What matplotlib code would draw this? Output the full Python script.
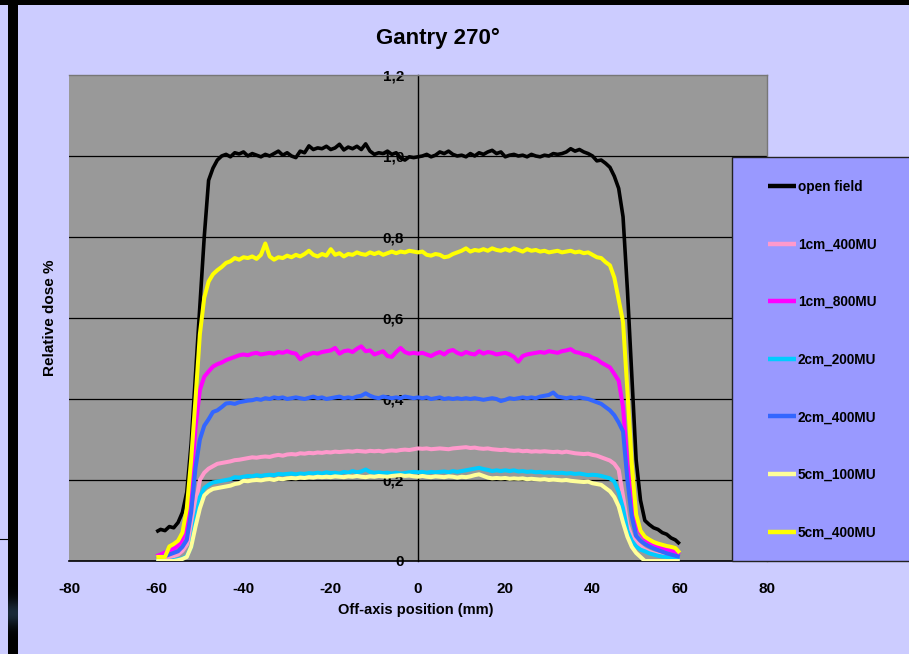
import numpy as np
import matplotlib
matplotlib.use("Agg")
import matplotlib.pyplot as plt
from matplotlib.patches import Rectangle
from matplotlib.ticker import FixedLocator, FuncFormatter

plt.rcParams['font.family'] = ['Liberation Sans', 'DejaVu Sans']
plt.rcParams['font.weight'] = 'bold'
plt.rcParams['axes.unicode_minus'] = False

# Off-axis position (mm)
position = list(range(-60, 61))

open_field = [
    0.072, 0.078, 0.075, 0.085, 0.082, 0.095, 0.12, 0.17, 0.29, 0.46,
    0.63, 0.80, 0.94, 0.97, 0.99, 1.0, 1.004, 0.998, 1.008, 1.005,
    1.01, 1.0, 1.006, 1.002, 0.998, 1.004, 1.0, 1.006, 1.012, 1.002,
    1.008, 1.0, 0.996, 1.012, 1.008, 1.025, 1.016, 1.02, 1.018, 1.024,
    1.016, 1.02, 1.029, 1.015, 1.022, 1.018, 1.024, 1.016, 1.03, 1.012,
    1.004, 1.008, 1.006, 1.012, 1.004, 1.008, 0.995, 0.99, 0.998, 0.996,
    0.998, 1.0, 1.004, 0.998, 1.002, 1.01, 1.006, 1.012, 1.004, 1.0,
    1.002, 0.998, 1.006, 1.0, 1.008, 1.004, 1.01, 1.014, 1.006, 1.01,
    0.998, 1.002, 1.004, 1.0, 1.002, 0.998, 1.004, 1.0, 0.998, 1.002,
    1.0, 1.006, 1.004, 1.006, 1.01, 1.018, 1.012, 1.016, 1.01, 1.006,
    1.0, 0.988, 0.99, 0.982, 0.972, 0.95, 0.92, 0.85, 0.67, 0.46,
    0.25, 0.15, 0.10, 0.09, 0.082, 0.078, 0.07, 0.066, 0.057, 0.052,
    0.042,
]

cm1_400 = [
    0.002, 0.003, 0.005, 0.008, 0.012, 0.016, 0.025, 0.04, 0.07, 0.14,
    0.20, 0.218, 0.228, 0.234, 0.24, 0.242, 0.244, 0.246, 0.249, 0.25,
    0.252, 0.254, 0.256, 0.255, 0.257, 0.258, 0.257, 0.26, 0.262, 0.26,
    0.263, 0.264, 0.263, 0.266, 0.265, 0.267, 0.266, 0.268, 0.267, 0.269,
    0.268, 0.27, 0.269, 0.27, 0.271, 0.27, 0.272, 0.271, 0.27, 0.272,
    0.271, 0.272, 0.27, 0.272, 0.273, 0.272, 0.274, 0.275, 0.274, 0.276,
    0.278, 0.277, 0.278, 0.276, 0.277, 0.278, 0.277, 0.276, 0.278, 0.279,
    0.28, 0.281, 0.279, 0.28, 0.278, 0.277, 0.278, 0.276, 0.275, 0.274,
    0.275, 0.273, 0.272, 0.273, 0.271, 0.272, 0.27, 0.271, 0.27, 0.271,
    0.27, 0.269, 0.27, 0.268, 0.27, 0.268, 0.266, 0.265, 0.264, 0.265,
    0.262, 0.26, 0.256, 0.252, 0.248, 0.24, 0.225, 0.16, 0.09, 0.06,
    0.046, 0.036, 0.028, 0.023, 0.019, 0.016, 0.013, 0.011, 0.01, 0.009,
    0.008,
]

cm1_800 = [
    0.012, 0.016, 0.021, 0.026, 0.03, 0.038, 0.054, 0.10, 0.19, 0.33,
    0.422, 0.455, 0.468, 0.48, 0.486, 0.49, 0.496, 0.5, 0.504, 0.508,
    0.51, 0.508, 0.512, 0.514, 0.51, 0.512, 0.514, 0.512, 0.516, 0.514,
    0.518, 0.514, 0.512, 0.498, 0.506, 0.51, 0.514, 0.512, 0.516, 0.518,
    0.52, 0.526, 0.512, 0.518, 0.52, 0.516, 0.524, 0.53, 0.518, 0.52,
    0.51, 0.514, 0.518, 0.506, 0.504, 0.516, 0.526, 0.516, 0.512, 0.514,
    0.512, 0.514, 0.51, 0.506, 0.512, 0.516, 0.51, 0.518, 0.521, 0.514,
    0.51, 0.516, 0.512, 0.51, 0.518, 0.512, 0.516, 0.514, 0.51, 0.512,
    0.514, 0.51, 0.504, 0.492, 0.506, 0.51, 0.512, 0.514, 0.516, 0.514,
    0.518, 0.516, 0.514, 0.518, 0.52, 0.523, 0.516, 0.514, 0.51, 0.508,
    0.502, 0.498, 0.49, 0.484, 0.478, 0.462, 0.445, 0.38, 0.24, 0.134,
    0.09, 0.07, 0.055, 0.047, 0.042, 0.036, 0.032, 0.029, 0.026, 0.023,
    0.016,
]

cm2_200 = [
    0.0, 0.0, 0.0, 0.0, 0.002, 0.004, 0.006, 0.012, 0.035, 0.10,
    0.158, 0.18, 0.188, 0.194, 0.196, 0.198, 0.2, 0.202, 0.207, 0.206,
    0.208, 0.21, 0.209, 0.212, 0.21, 0.212, 0.213, 0.212, 0.215, 0.214,
    0.215, 0.216, 0.214, 0.216, 0.215, 0.217, 0.216, 0.218, 0.216, 0.219,
    0.217, 0.218, 0.216, 0.22, 0.218, 0.222, 0.219, 0.221, 0.226, 0.22,
    0.218, 0.219, 0.217, 0.218, 0.216, 0.218, 0.216, 0.217, 0.219, 0.22,
    0.219, 0.22, 0.218, 0.22, 0.219, 0.22, 0.221, 0.219, 0.222, 0.22,
    0.222, 0.224, 0.226, 0.228, 0.23, 0.227, 0.225, 0.222, 0.224, 0.222,
    0.224, 0.222, 0.224, 0.221, 0.222, 0.22, 0.221, 0.219, 0.22, 0.218,
    0.219, 0.218, 0.217, 0.218, 0.216, 0.217, 0.215, 0.216, 0.214, 0.212,
    0.213, 0.212, 0.21, 0.207, 0.204, 0.196, 0.17, 0.13, 0.075, 0.05,
    0.036, 0.028, 0.024, 0.019, 0.016, 0.013, 0.011, 0.01, 0.008, 0.006,
    0.005,
]

cm2_400 = [
    0.005, 0.008, 0.012, 0.016, 0.02, 0.024, 0.035, 0.052, 0.12, 0.23,
    0.30, 0.334, 0.35, 0.368, 0.372, 0.38, 0.389, 0.39, 0.388, 0.392,
    0.394, 0.396, 0.397, 0.4, 0.398, 0.402, 0.4, 0.404, 0.402, 0.404,
    0.4, 0.402, 0.404, 0.402, 0.4, 0.403, 0.406, 0.402, 0.404, 0.4,
    0.402, 0.404, 0.406, 0.402, 0.404, 0.402, 0.406, 0.408, 0.414, 0.408,
    0.404, 0.402, 0.406, 0.404, 0.402, 0.404, 0.402, 0.406, 0.404, 0.402,
    0.404, 0.402, 0.404, 0.4, 0.402, 0.404, 0.4, 0.402, 0.4, 0.402,
    0.4, 0.402, 0.4, 0.402, 0.4, 0.398, 0.4, 0.402, 0.4, 0.395,
    0.398, 0.402, 0.4, 0.402, 0.404, 0.402, 0.404, 0.402, 0.406, 0.408,
    0.41, 0.416, 0.406, 0.404, 0.402, 0.404, 0.402, 0.404, 0.402, 0.4,
    0.396, 0.392, 0.388, 0.38, 0.372, 0.36, 0.342, 0.32, 0.20, 0.11,
    0.062, 0.05, 0.042, 0.036, 0.031, 0.027, 0.023, 0.019, 0.016, 0.013,
    0.01,
]

cm5_100 = [
    0.0, 0.0, 0.0, 0.0, 0.0, 0.002, 0.005, 0.01, 0.035, 0.085,
    0.13, 0.162, 0.172, 0.178, 0.18, 0.182, 0.184, 0.186, 0.19, 0.192,
    0.198, 0.197, 0.199, 0.2, 0.199, 0.201, 0.202, 0.2, 0.203, 0.202,
    0.204, 0.205, 0.204, 0.206, 0.205, 0.207, 0.206, 0.208, 0.207, 0.208,
    0.207, 0.209, 0.208, 0.207, 0.209, 0.208, 0.21, 0.208, 0.207, 0.209,
    0.208, 0.21, 0.209, 0.208, 0.21, 0.211, 0.212, 0.21, 0.211, 0.209,
    0.208, 0.21, 0.208, 0.207, 0.209, 0.208, 0.207, 0.209, 0.208, 0.206,
    0.208, 0.207, 0.209, 0.212, 0.214, 0.21, 0.206, 0.204, 0.205, 0.204,
    0.205, 0.203, 0.204, 0.203, 0.204, 0.202, 0.203, 0.202, 0.201, 0.202,
    0.2, 0.201, 0.2, 0.199, 0.2, 0.198, 0.197, 0.196, 0.195, 0.196,
    0.192, 0.19, 0.188, 0.18, 0.172, 0.158, 0.135, 0.095, 0.06, 0.035,
    0.02, 0.01, 0.0, 0.0, 0.0, 0.0, 0.0, 0.0, 0.0, 0.0,
    0.0,
]

cm5_400 = [
    0.01, 0.01, 0.01, 0.036, 0.042, 0.05, 0.07, 0.13, 0.25, 0.40,
    0.56, 0.65, 0.69, 0.708, 0.718, 0.726, 0.736, 0.74, 0.748, 0.744,
    0.75, 0.748, 0.752, 0.746, 0.756, 0.784, 0.752, 0.744, 0.75, 0.748,
    0.754, 0.75, 0.756, 0.752, 0.758, 0.766, 0.756, 0.752, 0.758, 0.754,
    0.77, 0.756, 0.76, 0.752, 0.758, 0.756, 0.762, 0.758, 0.756, 0.762,
    0.758, 0.762, 0.756, 0.76, 0.764, 0.76, 0.764, 0.762, 0.766, 0.764,
    0.762, 0.764, 0.756, 0.754, 0.758, 0.756, 0.75, 0.752, 0.758, 0.762,
    0.766, 0.772, 0.764, 0.768, 0.766, 0.77, 0.766, 0.772, 0.768, 0.766,
    0.77, 0.766, 0.772, 0.768, 0.764, 0.77, 0.766, 0.768, 0.764, 0.766,
    0.762, 0.764, 0.766, 0.762, 0.764, 0.766, 0.762, 0.764, 0.76, 0.762,
    0.756, 0.75, 0.748, 0.738, 0.73, 0.70, 0.645, 0.59, 0.42, 0.24,
    0.115, 0.075, 0.06, 0.053, 0.047, 0.043, 0.04, 0.037, 0.035, 0.032,
    0.02,
]

series_labels = ["open field", "1cm_400MU", "1cm_800MU", "2cm_200MU",
                 "2cm_400MU", "5cm_100MU", "5cm_400MU"]
series_values = [open_field, cm1_400, cm1_800, cm2_200, cm2_400, cm5_100, cm5_400]
series_colors = ["#000000", "#FF99CC", "#FF00FF", "#00CCFF",
                 "#3366FF", "#FFFF99", "#FFFF00"]

x_ticks = [-80, -60, -40, -20, 0, 20, 40, 60, 80]
y_ticks = [0, 0.2, 0.4, 0.6, 0.8, 1.0, 1.2]

W, H = 909, 654
fig = plt.figure(figsize=(W / 100, H / 100), dpi=100, facecolor="#CCCCFF")

ax = fig.add_axes([69 / W, 1 - 561 / H, 698 / W, 486 / H])
ax.set_facecolor("#999999")
ax.set_xlim(-80, 80)
ax.set_ylim(0, 1.2)

for yv in y_ticks[1:-1]:
    ax.axhline(yv, color="black", lw=0.9, zorder=1)

for vals, lab, col in zip(series_values, series_labels, series_colors):
    lw = 2.6 if col == "#000000" else 2.9
    ax.plot(position, vals, color=col, lw=lw, label=lab,
            solid_joinstyle="round", solid_capstyle="butt", zorder=3)

# y axis through x = 0
ax.spines["left"].set_position(("data", 0))
ax.spines["left"].set_color("black")
ax.spines["left"].set_linewidth(1.0)
ax.spines["left"].set_zorder(2)
ax.spines["bottom"].set_color("black")
ax.spines["bottom"].set_linewidth(1.2)
for s in ("top", "right"):
    ax.spines[s].set_color("#777777")
    ax.spines[s].set_linewidth(1.0)

ax.xaxis.set_major_locator(FixedLocator(x_ticks))
ax.yaxis.set_major_locator(FixedLocator(y_ticks))
ax.yaxis.set_major_formatter(FuncFormatter(
    lambda v, p: "0" if v == 0 else f"{v:.1f}".replace(".", ",")))
ax.tick_params(axis="x", length=0, pad=15, labelsize=11)
ax.tick_params(axis="y", length=0, pad=10, labelsize=11)
for t in ax.get_xticklabels() + ax.get_yticklabels():
    t.set_fontweight("bold")

fig.text(438 / W, 1 - 38 / H, "Gantry 270°", ha="center", va="center",
         fontsize=16, fontweight="bold")
fig.text(416 / W, 1 - 610 / H, "Off-axis position (mm)", ha="center",
         va="center", fontsize=10.5, fontweight="bold")
fig.text(50 / W, 1 - 318 / H, "Relative dose %", ha="center", va="center",
         rotation=90, fontsize=11, fontweight="bold")

# legend panel
panel = Rectangle((732 / W, 1 - 561 / H), (W - 731) / W, 404 / H,
                  transform=fig.transFigure, facecolor="#9999FF",
                  edgecolor="#222222", lw=1.0, zorder=5)
fig.patches.append(panel)
leg = fig.legend(loc="upper left", bbox_to_anchor=(768 / W, 1 - 180 / H),
                 frameon=False, fontsize=9.8, handlelength=2.05,
                 handletextpad=0.15, labelspacing=3.2, borderaxespad=0,
                 borderpad=0)
leg.set_zorder(6)
for t in leg.get_texts():
    t.set_fontweight("bold")
for h in leg.get_lines():
    h.set_linewidth(3.2)

# dark frame at top and left
fig.patches.append(Rectangle((0, 1 - 5 / H), 1, 5 / H, transform=fig.transFigure,
                             facecolor="black", edgecolor="none", zorder=7))
fig.patches.append(Rectangle((8 / W, 0), 10 / W, 1, transform=fig.transFigure,
                             facecolor="black", edgecolor="none", zorder=7))
glow = fig.add_axes([8 / W, 1 - 640 / H, 10 / W, 60 / H], zorder=8)
g = np.exp(-((np.linspace(-1, 1, 60) - 0.1) / 0.45) ** 2)
rgb = np.stack([0.1 * g, 0.16 * g, 0.22 * g], axis=-1)[:, None, :].repeat(10, axis=1)
glow.imshow(rgb, aspect="auto")
glow.set_axis_off()
fig.lines.append(plt.Line2D([0, 8 / W], [1 - 539 / H, 1 - 539 / H],
                            transform=fig.transFigure, color="black", lw=0.8))

fig.savefig("out.png", dpi=100, facecolor=fig.get_facecolor())
